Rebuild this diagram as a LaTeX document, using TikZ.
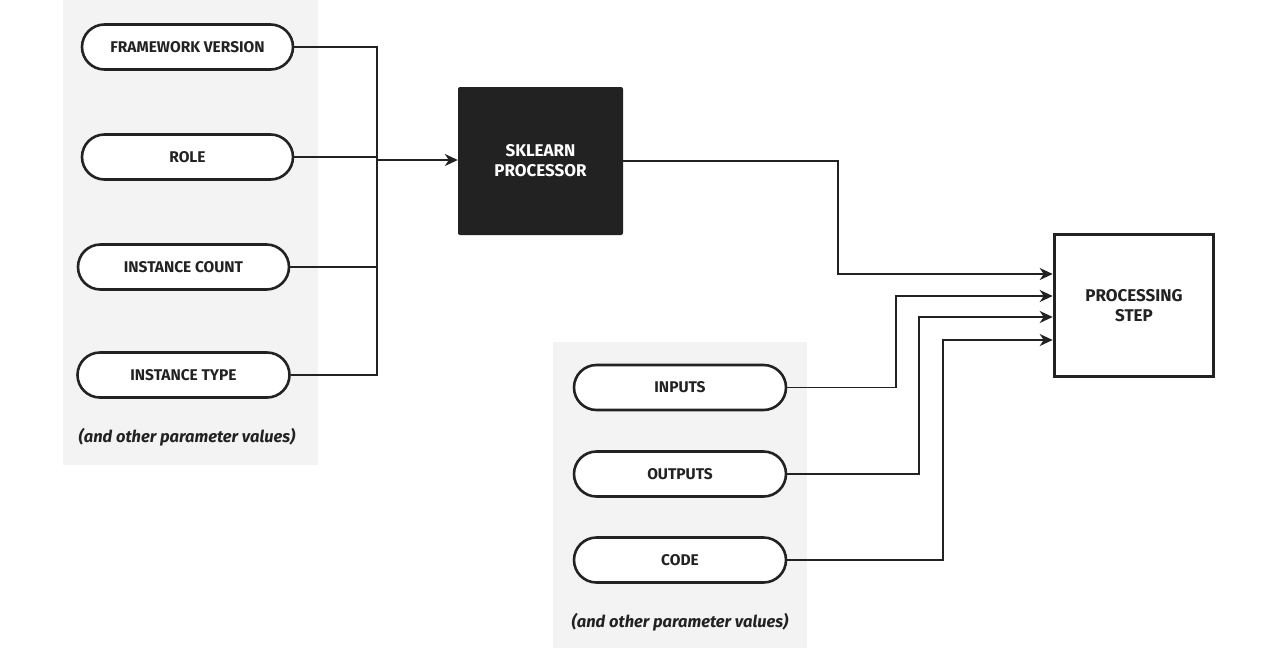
\documentclass[tikz,border=0pt]{standalone}
\usepackage{fontspec}
\setmainfont{Fira Sans}
\usetikzlibrary{arrows.meta,shapes.misc}
\definecolor{panel}{HTML}{F3F3F3}
\definecolor{ink}{HTML}{222222}
\tikzset{
  pill/.style={draw=ink, line width=2.6pt, fill=white, rounded rectangle,
    minimum height=45pt, font=\bfseries\fontsize{15.5}{18}\selectfont, text=ink, inner sep=0pt},
  conn/.style={draw=ink, line width=1.8pt},
  arr/.style={conn, -{Stealth[length=13pt,width=12pt,inset=4pt]}},
  note/.style={font=\bfseries\itshape\fontsize{16.5}{19}\selectfont, text=ink},
  boxtext/.style={font=\bfseries\fontsize{17}{20}\selectfont, align=center, inner sep=0pt},
}
\begin{document}
\begin{tikzpicture}[x=1pt,y=-1pt]
\useasboundingbox (0,0) rectangle (1281,651);
% panels
\fill[panel] (63,0) rectangle (318,465);
\fill[panel] (553,342) rectangle (807,648);
% left pills
\node[pill, minimum width=211pt] (fv) at (187.5,47) {FRAMEWORK VERSION};
\node[pill, minimum width=211pt] (role) at (187.5,157) {ROLE};
\node[pill, minimum width=211pt] (ic) at (183.5,267) {INSTANCE COUNT};
\node[pill, minimum width=212pt] (it) at (183.5,375) {INSTANCE TYPE};
\node[note] (n1) at (187,437) {(and other parameter values)};
% sklearn processor
\node[boxtext, fill=ink, rounded corners=2pt, minimum width=165pt, minimum height=148pt,
  text=white] (sk) at (540.5,161) {SKLEARN\\PROCESSOR};
% processing step
\node[boxtext, draw=ink, line width=3.6pt, fill=white, minimum width=159pt, minimum height=142pt,
  text=ink] (ps) at (1134,305.5) {PROCESSING\\STEP};
% right pills
\node[pill, minimum width=212pt] (in) at (680,387.5) {INPUTS};
\node[pill, minimum width=212pt] (out) at (680,474) {OUTPUTS};
\node[pill, minimum width=212pt] (code) at (680,560) {CODE};
\node[note] (n2) at (680,622) {(and other parameter values)};
% junction
\draw[conn] (fv.east) -| (377,375) -- (it.east);
\draw[conn] (role.east) -- (377,157);
\draw[conn] (ic.east) -- (377,267);
\draw[arr] (377,160) -- (sk.west |- 0,160);
% processor -> step
\draw[arr] (sk.east |- 0,161) -| (838,274) -- (ps.west |- 0,274);
\draw[arr] (in.east) -| (896,296) -- (ps.west |- 0,296);
\draw[arr] (out.east) -| (919,317) -- (ps.west |- 0,317);
\draw[arr] (code.east) -| (943,340) -- (ps.west |- 0,340);
\end{tikzpicture}
\end{document}
